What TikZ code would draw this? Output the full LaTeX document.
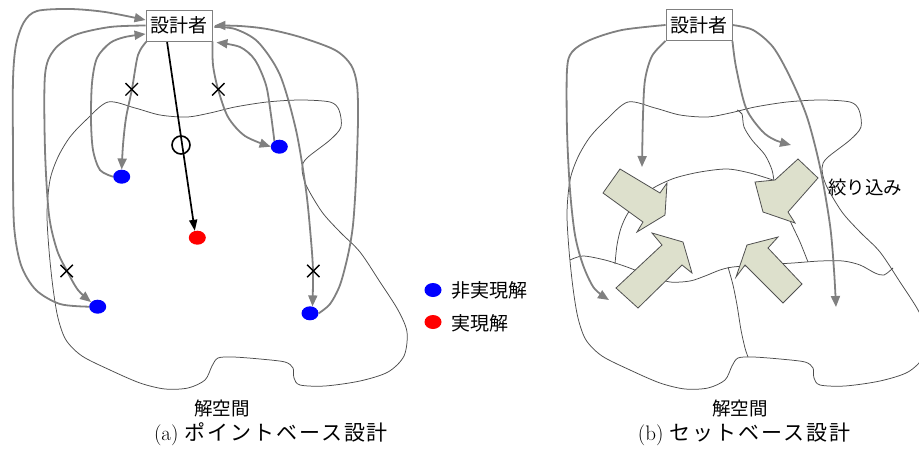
\documentclass[tikz,border=0pt]{standalone}
\usepackage{fontspec}
\newfontfamily\jp{Noto Sans CJK JP}
\newfontfamily\jpcap[LetterSpace=9]{Noto Sans CJK JP}
\usetikzlibrary{arrows.meta,shapes.geometric,shapes.misc}
\definecolor{garrow}{RGB}{128,128,128}
\definecolor{blobline}{RGB}{75,75,75}
\definecolor{sage}{RGB}{221,224,204}
\definecolor{arrowedge}{RGB}{80,80,80}
\newcommand\blobshape{%
  \draw[blobln] plot[smooth cycle, tension=0.5] coordinates {
    (108,102) (135,108) (160,115) (187,117) (210,113) (235,107) (267,102)
    (300,100) (330,102) (339,110) (341,127) (330,140) (307,158) (302,168)
    (306,185) (322,212) (340,232) (360,252) (380,282) (398,310) (407,332)
    (404,356) (388,372) (360,381) (325,386) (300,385) (294,378) (293,368)
    (285,362) (260,359) (233,357) (218,358) (212,366) (205,380) (188,388)
    (165,389) (140,383) (110,370) (82,356) (66,340) (58,318) (53,288)
    (49,250) (47,213) (50,180) (58,157) (70,137) (86,120)};}
\begin{document}
\begin{tikzpicture}[x=1pt,y=-1pt,
  garr/.style={draw=garrow, line width=1.8pt, -{Triangle[length=11pt,width=9pt]}},
  blobln/.style={draw=blobline, line width=0.75pt},
  boxst/.style={draw=garrow, line width=0.9pt, fill=white, minimum width=66pt, minimum height=31pt, inner sep=0pt, font=\jp\fontsize{19}{21}\selectfont},
  bdot/.style={ellipse, fill=blue, minimum width=17pt, minimum height=14pt, inner sep=0pt},
  rdot/.style={ellipse, fill=red, minimum width=17pt, minimum height=14pt, inner sep=0pt},
  xmark/.style={cross out, draw=black, line width=1.4pt, minimum size=11pt, inner sep=0pt},
  okmark/.style={circle, draw=black, line width=1.6pt, minimum size=18pt, inner sep=0pt},
  blk/.style={draw=arrowedge, fill=sage, line width=0.8pt, line join=miter},
  lbl/.style={inner sep=0pt, font=\jp\fontsize{18.5}{20}\selectfont},
  capst/.style={inner sep=0pt, font=\fontsize{21}{24}\selectfont}
]
\useasboundingbox (0,0) rectangle (919,450);
\clip (0,0) rectangle (919,450);

% ---------------- (a) point-based ----------------
\blobshape

\node[boxst] (boxA) at (179,25.5) {設計者};
\node[bdot] (d1) at (121.7,176.7) {};
\node[bdot] (d2) at (279.3,146.7) {};
\node[bdot] (d3) at (97.7,306.7) {};
\node[bdot] (d4) at (310,313.3) {};
\node[rdot] (r) at (197.3,237.7) {};

\coordinate (bA1) at ([yshift=5.5pt]boxA.west);
\coordinate (bA2) at (boxA.west);
\coordinate (bA3) at ([yshift=-8.5pt]boxA.west);
\coordinate (bA4) at ([xshift=1pt]boxA.south west);
\coordinate (bA5) at (boxA.south east);
\coordinate (bA6) at ([xshift=4pt,yshift=-1pt]boxA.south east);
\coordinate (bA7) at ([xshift=2pt,yshift=-1.5pt]boxA.east);
\coordinate (bA8) at ([xshift=2pt]boxA.east);
\coordinate (bA9) at ([xshift=-12pt]boxA.south);

\draw[garr] plot[smooth, tension=0.5] coordinates {(d3.west) (60,304) (36,290) (21,265) (14,225) (13,150) (13,80) (16,45) (24,22) (37,11) (70,9) (105,12) (bA1)};
\draw[garr] plot[smooth, tension=0.5] coordinates {(bA2) (110,27) (75,35) (54,50) (45,75) (45,150) (49,215) (57,250) (67,271) (78,290) (d3.145)};
\draw[garr] plot[smooth, tension=0.5] coordinates {(d1.west) (100,170) (93,150) (91,120) (92,83) (97,58) (110,43) (125,37) (bA3)};
\draw[garr] plot[smooth, tension=0.5] coordinates {(bA4) (138,55) (132,89) (126,118) (123,145) (d1.north)};
\draw[garr] plot[smooth, tension=0.5] coordinates {(bA5) (213,65) (218,89) (228,117) (245,136) (d2.west)};
\draw[garr] plot[smooth, tension=0.5] coordinates {(d2.130) (271,115) (266,85) (255,60) (240,47) (bA6)};
\draw[garr] plot[smooth, tension=0.5] coordinates {(bA7) (235,29) (258,42) (280,75) (296,130) (306,190) (311,240) (313,271) (d4.70)};
\draw[garr] plot[smooth, tension=0.5] coordinates {(d4.east) (330,304) (340,285) (348,255) (353,225) (356,180) (358,120) (357,85) (351,65) (335,50) (300,37) (267,29) (240,26) (bA8)};

\draw[line width=1.7pt, -{Triangle[length=11pt,width=8pt]}] (bA9) -- (r.110);
\node[okmark] (ok) at (181,145) {};

\node[xmark] (x1) at (131.7,89.3) {};
\node[xmark] (x2) at (218.3,89.3) {};
\node[xmark] (x3) at (66.7,271) {};
\node[xmark] (x4) at (313.3,271) {};

\node[boxst] at (boxA) {設計者};

% legend
\node[bdot] (lb) at (433,290) {};
\node[lbl, anchor=west, font=\jp\fontsize{19}{21}\selectfont] (lbt) at (451,290) {非実現解};
\node[rdot] (lr) at (433,322) {};
\node[lbl, anchor=west, font=\jp\fontsize{19}{21}\selectfont] (lrt) at (451,323) {実現解};

\node[lbl] (sA) at (222,408) {解空間};
\node[capst] (cA) at (271,434) {(a) {\jpcap ポイントベース設計}};

% ---------------- (b) set-based ----------------
\begin{scope}[xshift=520pt]
\blobshape
\end{scope}
% partitions
\draw[blobln] plot[smooth, tension=0.5] coordinates {(737,110) (742,114) (744,127) (752,140) (765,155) (772,170) (775,185) (783,205) (792,225) (800,242) (808,262)};
\draw[blobln] plot[smooth, tension=0.5] coordinates {(615,264) (617,245) (621,228) (628,213) (640,198) (655,187) (675,178) (700,172) (727,169) (750,173) (773,180)};
\draw[blobln] plot[smooth, tension=0.5] coordinates {(570,260) (583,256) (605,260) (627,267) (650,276) (670,282) (690,281) (705,276) (720,270) (733,267) (760,265) (793,263) (820,261) (843,261) (860,265) (875,273) (884,275) (893,268)};
\draw[blobln] plot[smooth, tension=0.5] coordinates {(728,267) (733,285) (737,305) (741,330) (745,348) (748,357)};

\node[boxst] (boxB) at (699,25) {設計者};
\coordinate (tR1) at (609,300);
\coordinate (tR2) at (642,167);
\coordinate (tR3) at (791,145);
\coordinate (tR4) at (836,307);
\draw[garr] plot[smooth, tension=0.5] coordinates {(boxB.west) (622,30) (590,40) (572,52) (567,70) (567,130) (570,190) (575,235) (583,265) (594,288) (tR1)};
\draw[garr] plot[smooth, tension=0.5] coordinates {(boxB.south west) (652,56) (645,80) (643,115) (tR2)};
\draw[garr] plot[smooth, tension=0.5] coordinates {(boxB.south east) (736,67) (746,108) (762,131) (775,140) (tR3)};
\draw[garr] plot[smooth, tension=0.5] coordinates {(boxB.east) (753,30) (773,47) (790,77) (807,117) (820,167) (830,225) (834,270) (tR4)};
\node[boxst] at (boxB) {設計者};

% block arrows (narrowing)
\draw[blk] (620,169) -- (660,193) -- (667,183) -- (665,215) -- (637,232) -- (643,222) -- (603,193) -- cycle;
\draw[blk] (798,159) -- (818,178) -- (788,212) -- (795,223) -- (763,212) -- (755,182) -- (775,180) -- cycle;
\draw[blk] (616,288) -- (662,245) -- (652,233) -- (683,242) -- (692,273) -- (682,265) -- (638,308) -- cycle;
\draw[blk] (802,284) -- (768,248) -- (778,237) -- (747,245) -- (736,277) -- (745,265) -- (783,303) -- cycle;

\node[lbl] (sq) at (865,187) {絞り込み};
\node[lbl] (sB) at (740,408) {解空間};
\node[capst] (cB) at (744,434) {(b) {\jpcap セットベース設計}};
\end{tikzpicture}
\end{document}
